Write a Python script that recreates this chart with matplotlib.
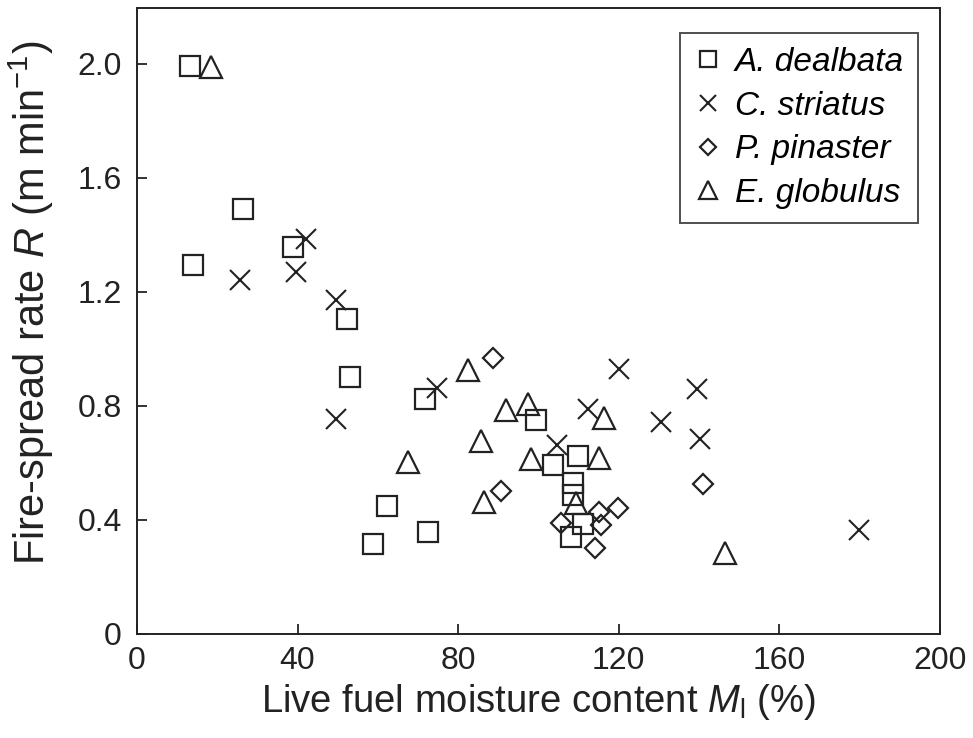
import matplotlib
matplotlib.use("Agg")
import matplotlib.pyplot as plt

plt.rcParams['font.family'] = ['Liberation Sans', 'DejaVu Sans']
plt.rcParams['mathtext.fontset'] = 'custom'
plt.rcParams['mathtext.rm'] = 'Liberation Sans'
plt.rcParams['mathtext.it'] = 'Liberation Sans:italic'
plt.rcParams['mathtext.bf'] = 'Liberation Sans:bold'

# A. dealbata (squares)
dealbata_x = [13.1, 14.0, 26.3, 38.9, 52.3, 53.1, 71.7, 62.4, 58.9, 72.4,
              99.3, 103.7, 110.0, 108.6, 108.6, 111.0, 108.2]
dealbata_y = [1.993, 1.295, 1.491, 1.357, 1.103, 0.90, 0.823, 0.449, 0.314, 0.356,
              0.75, 0.592, 0.623, 0.528, 0.487, 0.385, 0.341]
# C. striatus (crosses)
striatus_x = [42.1, 25.6, 39.6, 49.7, 49.6, 74.7, 120.2, 112.3, 104.7, 130.6,
              139.5, 140.3, 179.9]
striatus_y = [1.386, 1.240, 1.269, 1.170, 0.755, 0.861, 0.931, 0.788, 0.662, 0.742,
              0.858, 0.683, 0.364]
# P. pinaster (diamonds)
pinaster_x = [88.6, 90.8, 105.7, 115.2, 119.8, 115.6, 114.0, 141.1]
pinaster_y = [0.969, 0.502, 0.388, 0.428, 0.44, 0.382, 0.30, 0.525]
# E. globulus (triangles)
globulus_x = [18.4, 82.4, 67.6, 85.7, 86.5, 91.9, 97.3, 116.3, 98.2, 115.0,
              109.4, 146.4]
globulus_y = [1.987, 0.925, 0.603, 0.677, 0.463, 0.785, 0.808, 0.756, 0.615, 0.618,
              0.458, 0.283]

labels = ["A. dealbata", "C. striatus", "P. pinaster", "E. globulus"]
x_ticks = [0, 40, 80, 120, 160, 200]
y_ticks = [0, 0.4, 0.8, 1.2, 1.6, 2.0]
y_ticklabels = ["0", "0.4", "0.8", "1.2", "1.6", "2.0"]

ec = "#222222"
fig = plt.figure(figsize=(9.73, 7.38), dpi=100)
ax = fig.add_axes([0.1408, 0.141, 0.825, 0.848])

ax.plot(dealbata_x, dealbata_y, ls='none', marker='s', ms=14, mfc='none', mec=ec, mew=1.6, label=labels[0])
ax.plot(striatus_x, striatus_y, ls='none', marker='x', ms=15, mec=ec, mew=1.5, label=labels[1])
ax.plot(pinaster_x, pinaster_y, ls='none', marker='D', ms=10.5, mfc='none', mec=ec, mew=1.6, label=labels[2])
ax.plot(globulus_x, globulus_y, ls='none', marker='^', ms=16, mfc='none', mec=ec, mew=1.6, label=labels[3])

ax.set_xlim(0, 200)
ax.set_ylim(0, 2.195)
ax.set_xticks(x_ticks)
ax.set_yticks(y_ticks)
ax.set_yticklabels(y_ticklabels)
ax.tick_params(direction='in', length=7, width=1.3, labelsize=23, colors='#222222')
ax.tick_params(axis='y', pad=11)
ax.tick_params(axis='x', pad=9)
for s in ax.spines.values():
    s.set_linewidth(1.4)
    s.set_color('#222222')

ax.set_xlabel(r"Live fuel moisture content $M_\mathrm{l}$ (%)", fontsize=27.5, labelpad=4, color='#222222')
ax.set_ylabel(r"Fire-spread rate $R$ (m min$^{-1}$)", fontsize=30, color='#222222')
ax.yaxis.set_label_coords(-0.101, 0.530)

leg = ax.legend(loc='upper right', bbox_to_anchor=(0.9726, 0.960), markerscale=0.8,
                frameon=True, fancybox=False, handlelength=0.8, handletextpad=0.41,
                borderpad=0.42, labelspacing=0.38, borderaxespad=0.0,
                prop={'style': 'italic', 'size': 24})
leg.get_frame().set_edgecolor('#222222')
leg.get_frame().set_linewidth(1.4)

fig.savefig("out.png", dpi=100)
